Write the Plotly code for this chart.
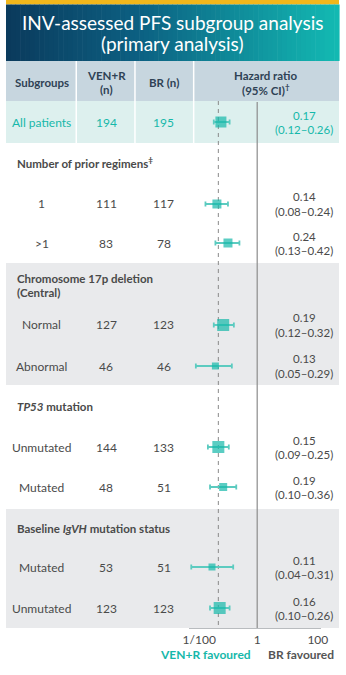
import math
import plotly.graph_objects as go

W, H = 346, 675

# ---------------- data ----------------
SUBGROUPS = ["All patients", "1", ">1", "Normal", "Abnormal",
             "Unmutated", "Mutated", "Mutated", "Unmutated"]
VEN_R_N = [194, 111, 83, 127, 46, 144, 48, 53, 123]
BR_N = [195, 117, 78, 123, 46, 133, 51, 51, 123]
HR = [0.17, 0.14, 0.24, 0.19, 0.13, 0.15, 0.19, 0.11, 0.16]
CI_LOW = [0.12, 0.08, 0.13, 0.12, 0.05, 0.09, 0.10, 0.04, 0.10]
CI_HIGH = [0.26, 0.24, 0.42, 0.32, 0.29, 0.25, 0.36, 0.31, 0.26]
SECTION_TITLES = ["Number of prior regimens<sup>‡</sup>",
                  "Chromosome 17p deletion",
                  "(Central)",
                  "<i>TP53</i> mutation",
                  "Baseline <i>IgVH</i> mutation status"]
HEADERS = ["Subgroups", "VEN+R", "(n)", "BR (n)", "Hazard ratio", "(95% CI)<sup>†</sup>"]
TITLE_LINES = ["INV-assessed PFS subgroup analysis", "(primary analysis)"]
TICK_LABELS = ["1/100", "1", "100"]
TICK_AT = [0.059, 1, 19.3]          # where the schematic axis prints its labels
REF_HR = 0.15                        # dashed reference line
FAVOURED = ["VEN+R favoured", "BR favoured"]

# ---------------- style / layout ----------------
FONT = "Lato"
TEAL = "#16b8aa"
TEAL_LIGHT = "#5ccbc0"
TEXT = "#4a4a4a"
HEAD_TEXT = "#2f4255"
ROW_Y = [122, 204, 243, 325, 366, 447, 487, 567, 608]
SQUARE_PX = [11, 9, 9, 12, 7, 12, 8, 7, 12]
SECTION_Y = [162, 278, 292, 406, 528]
COL_X = [37, 104, 164, 310]

def px(x):
    return x / W

def py(y):
    return 1 - y / H

shapes = []
annos = []

def rect(x0, y0, x1, y1, color):
    shapes.append(dict(type="rect", xref="paper", yref="paper",
                       x0=px(x0), x1=px(x1), y0=py(y0), y1=py(y1),
                       fillcolor=color, line=dict(width=0), layer="below"))

def vline(x, y0, y1, color, width=1.5):
    shapes.append(dict(type="line", xref="paper", yref="paper",
                       x0=px(x), x1=px(x), y0=py(y0), y1=py(y1),
                       line=dict(color=color, width=width), layer="below"))

def text(x, y, s, size=12, color=TEXT, xanchor="center"):
    annos.append(dict(xref="paper", yref="paper", x=px(x), y=py(y), text=s,
                      showarrow=False, xanchor=xanchor, yanchor="middle",
                      font=dict(family=FONT, size=size, color=color)))

# gold strip
rect(0, 0, W, 4.5, "#f2b71b")

# gradient title banner
stops = [(0.0, (11, 58, 92)), (0.4, (12, 96, 130)), (1.0, (19, 186, 179))]
def grad(t):
    for (t0, c0), (t1, c1) in zip(stops[:-1], stops[1:]):
        if t <= t1:
            f = (t - t0) / (t1 - t0)
            return "rgb(%d,%d,%d)" % tuple(round(a + (b - a) * f) for a, b in zip(c0, c1))
    return "rgb(%d,%d,%d)" % stops[-1][1]
N = 70
for i in range(N):
    x0 = W * i / N
    x1 = W * (i + 1) / N + 0.6
    rect(x0, 4.5, x1, 61, grad((i + 0.5) / N))

# header + all patients + section backgrounds
rect(0, 61, W, 101, "#c7d6df")
rect(0, 101, W, 143, "#ddf0ee")
rect(0, 263, W, 385, "#e9eaec")
rect(0, 509, W, 628, "#e9eaec")
for x in (73, 134, 195):
    vline(x, 61, 143, "white", 1.5)

# title
text(173, 23, TITLE_LINES[0], size=19, color="white")
text(173, 43.5, TITLE_LINES[1], size=19, color="white")

# headers
text(COL_X[0], 82, "<b>%s</b>" % HEADERS[0], size=11.5, color=HEAD_TEXT)
text(COL_X[1], 75, "<b>%s</b>" % HEADERS[1], size=11.5, color=HEAD_TEXT)
text(COL_X[1], 89.5, "<b>%s</b>" % HEADERS[2], size=11.5, color=HEAD_TEXT)
text(COL_X[2], 82, "<b>%s</b>" % HEADERS[3], size=11.5, color=HEAD_TEXT)
text(270, 75, "<b>%s</b>" % HEADERS[4], size=11.5, color=HEAD_TEXT)
text(270, 89.5, "<b>%s</b>" % HEADERS[5], size=11.5, color=HEAD_TEXT)

# section titles
for s, y in zip(SECTION_TITLES, SECTION_Y):
    text(9, y, "<b>%s</b>" % s, size=11.5, color=TEXT, xanchor="left")

# rows
for i, (lab, a, b, h, lo, hi) in enumerate(zip(SUBGROUPS, VEN_R_N, BR_N, HR, CI_LOW, CI_HIGH)):
    c = TEAL if i == 0 else TEXT
    y = ROW_Y[i]
    text(COL_X[0], y, lab, color=c)
    text(COL_X[1], y, str(a), color=c)
    text(COL_X[2], y, str(b), color=c)
    text(COL_X[3], y - 7, "%.2f" % h, size=11.5, color=c)
    text(COL_X[3], y + 7.5, "(%.2f–%.2f)" % (lo, hi), size=11.5, color=c)

# favoured labels
text(207, 654, "<b>%s</b>" % FAVOURED[0], size=12, color=TEAL)
text(306, 654, "<b>%s</b>" % FAVOURED[1], size=12, color="#555555")

# forest plot scale (log axis over the plot column)
X0_PX, X1_PX = 190, 327
ONE_PX, PX_PER_DEC = 261, 49
xr = [(X0_PX - ONE_PX) / PX_PER_DEC, (X1_PX - ONE_PX) / PX_PER_DEC]
Y_BOTTOM = 628

# reference lines on axis coordinates
shapes.append(dict(type="line", xref="x", yref="y", x0=1, x1=1, y0=102, y1=631,
                   line=dict(color="#8c8c8c", width=1.2), layer="below"))
shapes.append(dict(type="line", xref="x", yref="y", x0=REF_HR, x1=REF_HR, y0=101, y1=Y_BOTTOM,
                   line=dict(color="#8a8a8a", width=1, dash="4px,4px"), layer="below"))

fig = go.Figure()
fig.add_trace(go.Scatter(
    x=HR, y=ROW_Y, mode="markers",
    marker=dict(symbol="square", size=SQUARE_PX, color=TEAL, line=dict(width=0)),
    error_x=dict(type="data", symmetric=False,
                 array=[h2 - h for h, h2 in zip(HR, CI_HIGH)],
                 arrayminus=[h - l for h, l in zip(HR, CI_LOW)],
                 color=TEAL_LIGHT, thickness=1.8, width=2.5),
    hoverinfo="skip", showlegend=False, cliponaxis=False))

fig.update_layout(
    width=W, height=H, margin=dict(l=0, r=0, t=0, b=0),
    paper_bgcolor="white", plot_bgcolor="rgba(0,0,0,0)",
    shapes=shapes, annotations=annos, showlegend=False,
    xaxis=dict(type="log", range=xr, domain=[px(X0_PX), px(X1_PX)],
               showgrid=False, zeroline=False, showline=True,
               linecolor="#b9bcbf", linewidth=1.2,
               tickvals=TICK_AT, ticktext=TICK_LABELS, ticks="",
               tickfont=dict(family=FONT, size=12, color=TEXT), fixedrange=True),
    yaxis=dict(range=[Y_BOTTOM, 0], domain=[(H - Y_BOTTOM) / H, 1],
               visible=False, fixedrange=True),
)

fig.write_html("out.html")
